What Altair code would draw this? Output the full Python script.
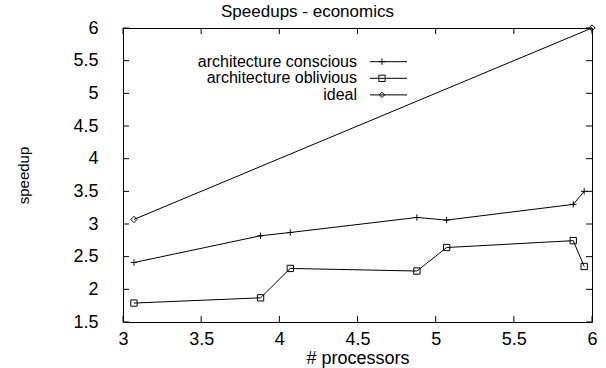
import altair as alt
import pandas as pd

series_names = ["architecture conscious", "architecture oblivious", "ideal"]

conscious_x = [3.07, 3.88, 4.07, 4.88, 5.07, 5.88, 5.95]
conscious_y = [2.41, 2.82, 2.87, 3.10, 3.06, 3.30, 3.50]

oblivious_x = [3.07, 3.88, 4.07, 4.88, 5.07, 5.88, 5.95]
oblivious_y = [1.79, 1.87, 2.32, 2.28, 2.64, 2.745, 2.35]

ideal_x = [3.07, 6.0]
ideal_y = [3.07, 6.0]

x_ticks = [3.0, 3.5, 4.0, 4.5, 5.0, 5.5, 6.0]
y_ticks = [1.5, 2.0, 2.5, 3.0, 3.5, 4.0, 4.5, 5.0, 5.5, 6.0]

FONT = "Liberation Sans"
W, H = 469, 294
TICK = 6

rows = []
for name, xs, ys in [(series_names[0], conscious_x, conscious_y),
                     (series_names[1], oblivious_x, oblivious_y),
                     (series_names[2], ideal_x, ideal_y)]:
    for i, (a, b) in enumerate(zip(xs, ys)):
        rows.append({"series": name, "x": a, "y": b, "order": i})
df = pd.DataFrame(rows)

plus_path = "M-1,0L1,0M0,-1L0,1"
shape_range = [plus_path, "square", "diamond"]
size_range = [40, 40, 28]

xscale = alt.Scale(domain=[3, 6], nice=False, zero=False)
yscale = alt.Scale(domain=[1.5, 6], nice=False, zero=False)

xaxis = alt.Axis(values=x_ticks, format="~g", title="# processors", grid=False,
                 domain=False, ticks=False, labelFont=FONT, labelFontSize=18,
                 labelColor="black", labelPadding=8, labelFlush=False,
                 labelOverlap=False, titleFont=FONT,
                 titleFontSize=18, titleFontWeight="normal", titleColor="black",
                 titleY=41, titleBaseline="alphabetic")
yaxis = alt.Axis(values=y_ticks, format="~g", title="speedup", grid=False,
                 domain=False, ticks=False, labelFont=FONT, labelFontSize=18,
                 labelColor="black", labelPadding=25, labelFlush=False,
                 labelOverlap=False, titleFont=FONT,
                 titleFontSize=15, titleFontWeight="normal", titleColor="black",
                 titleX=-100, titleY=H / 2, titleBaseline="middle")

base = alt.Chart(df)
lines = base.mark_line(color="black", strokeWidth=1).encode(
    x=alt.X("x:Q", scale=xscale, axis=xaxis),
    y=alt.Y("y:Q", scale=yscale, axis=yaxis),
    detail="series:N",
    order="order:Q",
)
points = base.mark_point(filled=False, color="black", strokeWidth=1, opacity=1).encode(
    x=alt.X("x:Q", scale=xscale, axis=xaxis),
    y=alt.Y("y:Q", scale=yscale, axis=yaxis),
    shape=alt.Shape("series:N", scale=alt.Scale(domain=series_names, range=shape_range), legend=None),
    size=alt.Size("series:N", scale=alt.Scale(domain=series_names, range=size_range), legend=None),
)

xt = pd.DataFrame({"x": x_ticks})
yt = pd.DataFrame({"y": y_ticks})
xtick_bottom = alt.Chart(xt).mark_rule(color="black", strokeWidth=1).encode(
    x=alt.X("x:Q", scale=xscale, axis=xaxis), y=alt.value(H), y2=alt.value(H - TICK))
xtick_top = alt.Chart(xt).mark_rule(color="black", strokeWidth=1).encode(
    x=alt.X("x:Q", scale=xscale, axis=xaxis), y=alt.value(0), y2=alt.value(TICK))
ytick_left = alt.Chart(yt).mark_rule(color="black", strokeWidth=1).encode(
    y=alt.Y("y:Q", scale=yscale, axis=yaxis), x=alt.value(0), x2=alt.value(TICK))
ytick_right = alt.Chart(yt).mark_rule(color="black", strokeWidth=1).encode(
    y=alt.Y("y:Q", scale=yscale, axis=yaxis), x=alt.value(W), x2=alt.value(W - TICK))

legend_layers = []
for i, name in enumerate(series_names):
    ly = 33.7 + 16.6 * i
    ldf = pd.DataFrame({"label": [name]})
    legend_layers.append(alt.Chart(ldf).mark_text(
        align="right", baseline="middle", font=FONT, fontSize=16, color="black").encode(
        text="label:N", x=alt.value(234), y=alt.value(ly)))
    legend_layers.append(alt.Chart(ldf).mark_rule(color="black", strokeWidth=1).encode(
        x=alt.value(247), x2=alt.value(284), y=alt.value(ly)))
    legend_layers.append(alt.Chart(ldf).mark_point(
        filled=False, color="black", strokeWidth=1, opacity=1,
        shape=shape_range[i], size=size_range[i]).encode(
        x=alt.value(259), y=alt.value(ly)))

chart = alt.layer(lines, points, xtick_bottom, xtick_top, ytick_left, ytick_right,
                  *legend_layers).properties(
    width=W, height=H,
    title=alt.TitleParams("Speedups - economics", font=FONT, fontSize=17,
                          fontWeight="normal", color="black", anchor="middle",
                          dx=-50, offset=-2),
    autosize=alt.AutoSizeParams(type="none"),
    padding={"left": 123, "top": 28, "right": 14, "bottom": 46},
    background="white",
).configure_view(stroke="black", strokeWidth=1)

chart.save("out.html", embed_options={"renderer": "svg", "actions": False})
